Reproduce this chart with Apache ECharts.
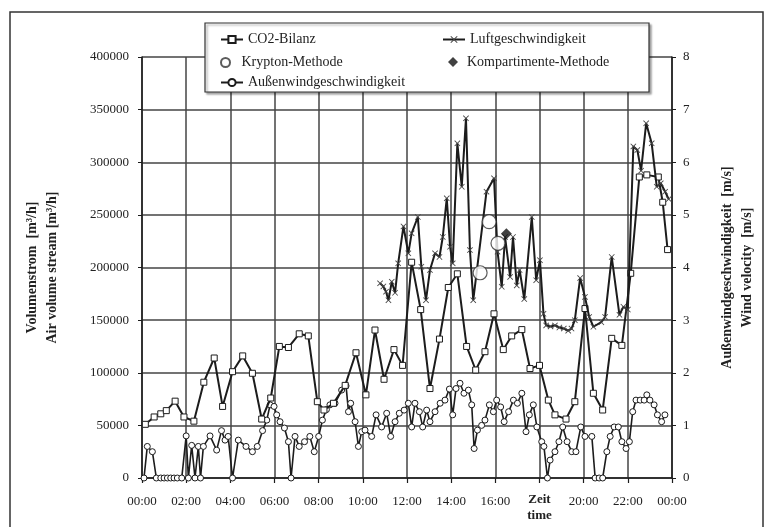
<!DOCTYPE html>
<html><head><meta charset="utf-8">
<script src="https://cdn.jsdelivr.net/npm/echarts@6/dist/echarts.min.js"></script>
<style>html,body{margin:0;padding:0;background:#fff}#c{width:770px;height:527px}</style>
</head><body><div id="c"></div>
<script>
// ---- tick labels ----
const xTickLabels = ['00:00','02:00','04:00','06:00','08:00','10:00','12:00','14:00','16:00','ZEIT','20:00','22:00','00:00'];
const leftTicks = [0,50000,100000,150000,200000,250000,300000,350000,400000];
const rightTicks = [0,1,2,3,4,5,6,7,8];

// ---- CO2-Bilanz (hours, m3/h) ----
const co2Time = [0.15,0.55,0.85,1.1,1.5,1.9,2.35,2.8,3.27,3.65,4.1,4.56,5.0,5.42,5.83,6.22,6.63,7.12,7.53,7.94,8.24,8.67,9.2,9.69,10.14,10.55,10.96,11.41,11.8,12.21,12.62,13.04,13.47,13.87,14.28,14.7,15.11,15.53,15.94,16.36,16.74,17.2,17.57,18.0,18.4,18.7,19.2,19.6,20.06,20.44,20.86,21.27,21.73,22.13,22.52,22.86,23.38,23.58,23.8];
const co2Val = [51000,58000,61000,64000,73000,58000,54000,91000,114000,68000,101000,116000,99500,56000,76000,125000,124000,137000,135000,72500,64600,71000,88000,119000,79000,140600,93800,122000,107000,205000,160000,85000,132000,181000,194000,125000,102600,120000,156000,122000,135000,141000,104000,107000,74000,60000,56000,72500,161000,80500,64600,132700,126000,194500,286000,288000,286000,262000,217000];

// ---- Luftgeschwindigkeit (hours, m3/h) ----
const luftTime = [10.78,10.93,11.05,11.16,11.31,11.46,11.6,11.84,12.06,12.21,12.49,12.65,12.86,13.04,13.27,13.47,13.62,13.8,13.95,14.07,14.28,14.48,14.67,14.85,15.0,15.6,15.94,16.1,16.29,16.44,16.67,16.8,16.97,17.1,17.31,17.65,17.85,18.02,18.18,18.3,18.5,18.7,18.9,19.1,19.3,19.45,19.6,19.84,20.06,20.25,20.44,20.8,20.97,21.27,21.62,21.8,22.0,22.25,22.43,22.6,22.83,23.08,23.31,23.49,23.69,23.85];
const luftVal = [185000,182000,177000,169000,186500,176000,204000,239000,213500,232500,248000,200700,169000,197600,213500,210000,229000,265700,219700,204000,318000,276700,341700,216600,169000,272000,284700,215000,181700,229000,191000,229000,183000,197600,170000,248000,188000,207000,156000,145000,144000,145000,143000,142000,140000,142000,150000,190000,172000,153000,143700,148000,153000,210000,155000,162700,160000,315000,311600,292000,337000,318000,276700,280000,272000,265000];

// ---- Krypton-Methode (hours, m3/h) ----
const kryptonTime = [15.31,15.72,16.12];
const kryptonVal = [195000,243500,223000];

// ---- Kompartimente-Methode (hours, m3/h) ----
const kompTime = [16.5];
const kompVal = [232000];

// ---- Aussenwindgeschwindigkeit (hours, m/s) ----
const windTime = [0.09,0.24,0.47,0.65,0.85,1.0,1.15,1.3,1.45,1.6,1.8,2.0,2.1,2.25,2.4,2.55,2.65,2.78,3.08,3.38,3.6,3.76,3.9,4.1,4.36,4.71,5.0,5.22,5.46,5.65,5.8,5.98,6.1,6.25,6.45,6.63,6.75,6.93,7.12,7.36,7.6,7.8,8.0,8.17,8.35,8.51,8.74,9.04,9.24,9.35,9.45,9.65,9.8,9.95,10.1,10.4,10.6,10.85,11.08,11.26,11.46,11.65,11.87,12.06,12.21,12.36,12.56,12.71,12.89,13.04,13.27,13.5,13.72,13.92,14.07,14.22,14.4,14.58,14.78,14.93,15.04,15.19,15.38,15.53,15.73,15.91,16.06,16.24,16.4,16.6,16.82,17.0,17.2,17.39,17.54,17.72,17.88,18.1,18.2,18.36,18.48,18.7,18.88,19.05,19.25,19.46,19.65,19.87,20.06,20.37,20.52,20.7,20.86,21.05,21.2,21.38,21.57,21.73,21.92,22.07,22.22,22.37,22.56,22.74,22.86,23.0,23.19,23.34,23.53,23.68];
const windVal = [0,0.6,0.5,0,0,0,0,0,0,0,0,0.8,0,0.62,0,0.6,0,0.6,0.8,0.53,0.9,0.72,0.79,0,0.72,0.6,0.5,0.6,0.9,1.1,1.39,1.36,1.2,1.07,0.95,0.69,0,0.79,0.6,0.69,0.79,0.5,0.79,1.1,1.3,1.39,1.42,1.67,1.75,1.26,1.42,1.07,0.6,0.88,0.91,0.79,1.2,0.97,1.23,0.79,1.07,1.23,1.29,1.42,0.97,1.42,1.26,0.97,1.29,1.07,1.26,1.42,1.48,1.69,1.2,1.7,1.8,1.61,1.67,1.39,0.56,0.91,1.0,1.1,1.39,1.26,1.48,1.35,1.07,1.26,1.48,1.42,1.61,0.88,1.2,1.39,0.97,0.69,0.6,0,0.34,0.5,0.69,0.97,0.69,0.5,0.5,0.97,0.79,0.79,0,0,0,0.5,0.79,0.97,0.97,0.69,0.56,0.69,1.26,1.48,1.48,1.48,1.58,1.48,1.39,1.2,1.07,1.2];

const zip = (t, v) => t.map((x, i) => [x, v[i]]);
const FONT = 'Liberation Serif';
const INK = '#1c1c1c';
const GRID = '#444';
const xSym = 'path://M0,1L1,0L5,4L9,0L10,1L6,5L10,9L9,10L5,6L1,10L0,9L4,5Z';

const chart = echarts.init(document.getElementById('c'), null, {renderer: 'canvas'});

function leg(name, left, centerY, h, w, icon, textPad) {
  const item = icon ? {name: name, icon: icon} : name;
  return {
    data: [item], left: left, top: centerY - h / 2, padding: 0,
    itemWidth: w || 22, itemHeight: h, itemGap: 0, z: 20,
    textStyle: {fontFamily: FONT, fontSize: 14, color: INK, padding: textPad || 0},
    selectedMode: false
  };
}

chart.setOption({
  animation: false,
  backgroundColor: '#fff',
  textStyle: {fontFamily: FONT},
  grid: {left: 142, right: 98, top: 57, bottom: 49, containLabel: false},
  graphic: [
    {type: 'rect', z: -10, silent: true, shape: {x: 10, y: 12, width: 753, height: 530},
     style: {fill: 'none', stroke: '#333', lineWidth: 1.5}},
    {type: 'rect', z: 15, silent: true, shape: {x: 205, y: 23, width: 444, height: 69},
     style: {fill: '#fff', stroke: '#333', lineWidth: 1.2, shadowColor: 'rgba(0,0,0,0.35)', shadowOffsetX: 2, shadowOffsetY: 2, shadowBlur: 2}}
  ],
  legend: [
    leg('CO2-Bilanz', 220, 37, 9),
    leg('Krypton-Methode', 220, 60, 9),
    leg('Außenwindgeschwindigkeit', 220, 80, 9),
    leg('Luftgeschwindigkeit', 442, 37, 9),
    leg('Kompartimente-Methode', 448, 60, 10, 10, 'diamond', [0, 0, 0, 4])
  ],
  xAxis: {
    type: 'value', min: 0, max: 24, interval: 2,
    axisLine: {show: true, lineStyle: {color: INK, width: 1.5}},
    axisTick: {show: true, length: 5, lineStyle: {color: INK, width: 1.2}},
    splitLine: {show: true, lineStyle: {color: GRID, width: 1.5}},
    axisLabel: {
      margin: 24, verticalAlign: 'middle', fontFamily: FONT, fontSize: 13, color: '#222',
      formatter: function (v) {
        const s = xTickLabels[Math.round(v / 2)];
        return s === 'ZEIT' ? '{z|Zeit}\n{b|time}' : s;
      },
      rich: {
        z: {fontFamily: FONT, fontSize: 13, fontWeight: 'bold', color: '#222', lineHeight: 20, padding: [16, 0, 0, 0]},
        b: {fontFamily: FONT, fontSize: 13, fontWeight: 'bold', color: '#222', lineHeight: 20, padding: [8, 0, 0, 0]}
      }
    }
  },
  yAxis: [
    {
      type: 'value', min: 0, max: 400000, interval: 50000, position: 'left',
      name: 'Volumenstrom  [m³/h]\nAir volume stream [m³/h]',
      nameLocation: 'middle', nameRotate: 90, nameGap: 80,
      nameTextStyle: {fontFamily: FONT, fontSize: 14, fontWeight: 'bold', color: '#222', lineHeight: 20},
      axisLine: {show: true, lineStyle: {color: INK, width: 1.5}},
      axisTick: {show: true, length: 4, lineStyle: {color: INK}},
      splitLine: {show: true, lineStyle: {color: GRID, width: 1.5}},
      axisLabel: {margin: 13, fontFamily: FONT, fontSize: 13, color: '#222',
        formatter: v => String(leftTicks[Math.round(v / 50000)])}
    },
    {
      type: 'value', min: 0, max: 8, interval: 1, position: 'right',
      name: 'Außenwindgeschwindigkeit  [m/s]\nWind velocity  [m/s]',
      nameLocation: 'middle', nameRotate: 90, nameGap: 45,
      nameTextStyle: {fontFamily: FONT, fontSize: 14, fontWeight: 'bold', color: '#222', lineHeight: 20},
      axisLine: {show: true, lineStyle: {color: INK, width: 1.5}},
      axisTick: {show: true, length: 4, lineStyle: {color: INK}},
      splitLine: {show: false},
      axisLabel: {margin: 11, fontFamily: FONT, fontSize: 13, color: '#222',
        formatter: v => String(rightTicks[Math.round(v)])}
    }
  ],
  series: [
    {
      name: 'Außenwindgeschwindigkeit', type: 'line', yAxisIndex: 1, data: zip(windTime, windVal),
      symbol: 'circle', symbolSize: 6, z: 3,
      lineStyle: {color: INK, width: 1.6},
      itemStyle: {color: '#fff', borderColor: INK, borderWidth: 1}
    },
    {
      name: 'CO2-Bilanz', type: 'line', yAxisIndex: 0, data: zip(co2Time, co2Val),
      symbol: 'rect', symbolSize: 6, z: 4,
      lineStyle: {color: INK, width: 2},
      itemStyle: {color: '#fff', borderColor: INK, borderWidth: 1}
    },
    {
      name: 'Luftgeschwindigkeit', type: 'line', yAxisIndex: 0, data: zip(luftTime, luftVal),
      symbol: xSym, symbolSize: 6, z: 5,
      lineStyle: {color: INK, width: 2},
      itemStyle: {color: '#444', borderWidth: 0}
    },
    {
      name: 'Krypton-Methode', type: 'scatter', yAxisIndex: 0, data: zip(kryptonTime, kryptonVal),
      symbol: 'circle', symbolSize: 14, symbolKeepAspect: true, z: 6,
      itemStyle: {color: '#fff', borderColor: '#333', borderWidth: 1.2}
    },
    {
      name: 'Kompartimente-Methode', type: 'scatter', yAxisIndex: 0, data: zip(kompTime, kompVal),
      symbol: 'diamond', symbolSize: 11, symbolKeepAspect: true, z: 6,
      itemStyle: {color: '#111'}
    }
  ]
});
</script>
</body></html>
